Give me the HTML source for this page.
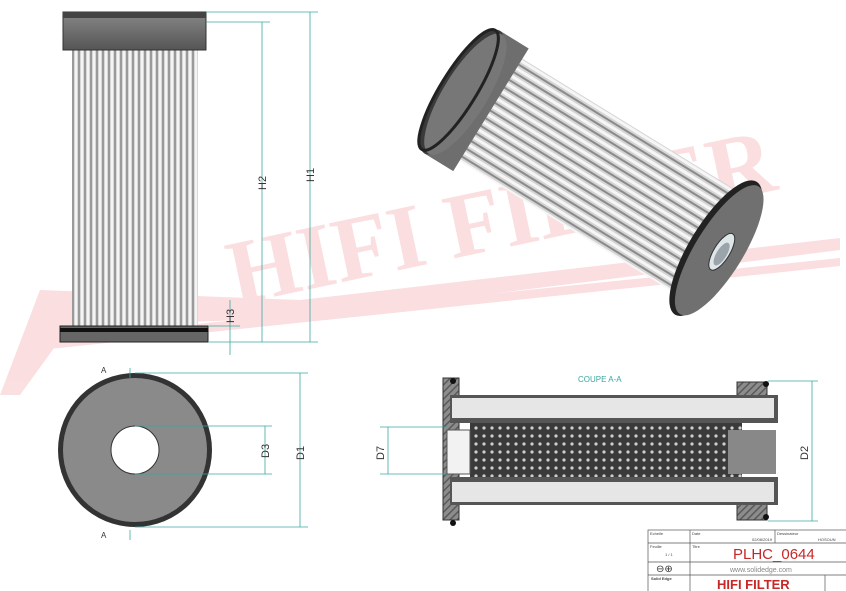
<!DOCTYPE html>
<html><head><meta charset="utf-8"><style>
html,body{margin:0;padding:0;background:#fff;}
svg{display:block;font-family:"Liberation Sans",sans-serif;}
</style></head><body>
<svg width="846" height="591" viewBox="0 0 846 591" xmlns="http://www.w3.org/2000/svg">
<defs>
<pattern id="pl" width="6" height="10" patternUnits="userSpaceOnUse">
<rect width="6" height="10" fill="#d8d8d8"/><rect x="0" width="2" height="10" fill="#9a9a9a"/><rect x="3" width="2" height="10" fill="#f4f4f4"/>
</pattern>
<pattern id="pl3" width="10" height="9" patternUnits="userSpaceOnUse">
<rect width="10" height="9" fill="#d4d4d4"/><rect y="0" width="10" height="2" fill="#8a8a8a"/><rect y="4" width="10" height="3" fill="#f6f6f6"/>
</pattern>
<pattern id="mesh" width="8" height="8" patternUnits="userSpaceOnUse">
<rect width="8" height="8" fill="#3a3a3a"/><circle cx="4" cy="4" r="1.6" fill="#cfcfcf"/>
</pattern>
<pattern id="hatch" width="5" height="5" patternUnits="userSpaceOnUse" patternTransform="rotate(45)">
<rect width="5" height="5" fill="#8c8c8c"/><rect width="1.5" height="5" fill="#5a5a5a"/>
</pattern>
<linearGradient id="capg" x1="0" y1="0" x2="0" y2="1"><stop offset="0" stop-color="#888"/><stop offset="1" stop-color="#555"/></linearGradient>
</defs>

<!-- watermark -->
<g opacity="0.14" fill="#e0202a">
<text x="235" y="305" font-family="Liberation Serif,serif" font-weight="bold" font-size="92" transform="rotate(-12 235 305)">HIFI FILTER</text>
<polygon points="0,395 40,290 300,300 840,238 840,250 300,318 70,326 20,395"/>
<polygon points="40,340 840,258 840,266 40,350"/>
</g>

<!-- left elevation -->
<rect x="72" y="50" width="126" height="276" fill="url(#pl)"/>
<rect x="63" y="12" width="143" height="38" fill="url(#capg)" stroke="#333"/>
<rect x="63" y="12" width="143" height="6" fill="#444"/>
<rect x="60" y="326" width="148" height="16" fill="#666" stroke="#222"/>
<rect x="60" y="328" width="148" height="4" fill="#111"/>
<g stroke="#3aa7a0" stroke-width="0.8" fill="none">
<line x1="206" y1="12" x2="318" y2="12"/><line x1="206" y1="22" x2="270" y2="22"/>
<line x1="208" y1="342" x2="318" y2="342"/><line x1="208" y1="326" x2="240" y2="326"/>
<line x1="262" y1="22" x2="262" y2="342"/><line x1="310" y1="12" x2="310" y2="342"/>
<line x1="230" y1="300" x2="230" y2="355"/>
</g>
<g font-size="11" fill="#333">
<text x="266" y="190" transform="rotate(-90 266 190)">H2</text>
<text x="314" y="182" transform="rotate(-90 314 182)">H1</text>
<text x="234" y="323" transform="rotate(-90 234 323)">H3</text>
</g>

<!-- circle view -->
<circle cx="135" cy="450" r="77" fill="#333"/>
<circle cx="135" cy="450" r="72" fill="#8a8a8a"/>
<circle cx="135" cy="450" r="24" fill="#fff" stroke="#333"/>
<g stroke="#3aa7a0" stroke-width="0.8" fill="none">
<line x1="135" y1="373" x2="308" y2="373"/><line x1="135" y1="527" x2="308" y2="527"/>
<line x1="135" y1="426" x2="272" y2="426"/><line x1="135" y1="474" x2="272" y2="474"/>
<line x1="265" y1="426" x2="265" y2="474"/><line x1="300" y1="373" x2="300" y2="527"/>
<line x1="130" y1="368" x2="130" y2="378"/><line x1="130" y1="530" x2="130" y2="540"/>
</g>
<g font-size="11" fill="#333">
<text x="269" y="458" transform="rotate(-90 269 458)">D3</text>
<text x="304" y="460" transform="rotate(-90 304 460)">D1</text>
<text x="101" y="373" font-size="8">A</text><text x="101" y="538" font-size="8">A</text>
</g>

<!-- isometric view -->
<g transform="translate(462,92) rotate(31.6)">
<rect x="20" y="-60" width="276" height="120" fill="url(#pl3)"/>
<rect x="0" y="-72" width="34" height="144" fill="#6e6e6e"/>
<ellipse cx="0" cy="0" rx="22" ry="72" fill="#3a3a3a"/>
<ellipse cx="4" cy="0" rx="22" ry="70" fill="#777"/>
<ellipse cx="-4" cy="0" rx="18" ry="70" fill="none" stroke="#222" stroke-width="3"/>
<ellipse cx="298" cy="0" rx="26" ry="78" fill="#222"/>
<ellipse cx="302" cy="0" rx="24" ry="75" fill="#707070"/>
<ellipse cx="305" cy="0" rx="8" ry="21" fill="#dfe6ea" stroke="#333"/>
<ellipse cx="306" cy="2" rx="5" ry="13" fill="#9aa4aa"/>
</g>

<!-- section -->
<text x="578" y="382" font-size="8" fill="#3aa7a0">COUPE A-A</text>
<rect x="443" y="378" width="16" height="142" fill="url(#hatch)" stroke="#333"/>
<rect x="737" y="382" width="30" height="36" fill="url(#hatch)" stroke="#333"/>
<rect x="737" y="484" width="30" height="36" fill="url(#hatch)" stroke="#333"/>
<rect x="450" y="395" width="328" height="28" fill="#555"/>
<rect x="452" y="398" width="322" height="20" fill="#e6e6e6"/>
<rect x="450" y="477" width="328" height="28" fill="#555"/>
<rect x="452" y="482" width="322" height="20" fill="#e6e6e6"/>
<rect x="470" y="423" width="272" height="54" fill="url(#mesh)"/>
<rect x="447" y="430" width="23" height="44" fill="#f2f2f2" stroke="#555"/>
<rect x="728" y="430" width="48" height="44" fill="#888"/>
<circle cx="453" cy="381" r="3" fill="#111"/><circle cx="453" cy="523" r="3" fill="#111"/>
<circle cx="766" cy="384" r="3" fill="#111"/><circle cx="766" cy="517" r="3" fill="#111"/>
<g stroke="#3aa7a0" stroke-width="0.8" fill="none">
<line x1="380" y1="427" x2="447" y2="427"/><line x1="380" y1="474" x2="447" y2="474"/>
<line x1="388" y1="427" x2="388" y2="474"/>
<line x1="768" y1="381" x2="818" y2="381"/><line x1="768" y1="521" x2="818" y2="521"/>
<line x1="812" y1="381" x2="812" y2="521"/>
</g>
<g font-size="11" fill="#333">
<text x="384" y="460" transform="rotate(-90 384 460)">D7</text>
<text x="808" y="460" transform="rotate(-90 808 460)">D2</text>
</g>

<!-- title block -->
<g stroke="#555" stroke-width="0.7" fill="none">
<rect x="648" y="530" width="200" height="62"/>
<line x1="690" y1="530" x2="690" y2="591"/>
<line x1="648" y1="543" x2="846" y2="543"/>
<line x1="648" y1="562" x2="846" y2="562"/>
<line x1="648" y1="575" x2="846" y2="575"/>
<line x1="775" y1="530" x2="775" y2="543"/>
<line x1="825" y1="575" x2="825" y2="591"/>
</g>
<g fill="#444" font-size="4">
<text x="650" y="535">Echelle</text><text x="692" y="535">Date</text><text x="777" y="535">Dessinateur</text>
<text x="650" y="548">Feuille</text><text x="692" y="548">Titre</text>
<text x="752" y="541">02/08/2019</text><text x="818" y="541">HOSOUN</text>
<text x="665" y="556">1 / 1</text>
<text x="651" y="580" font-weight="bold">Solid Edge</text>
</g>
<text x="733" y="559" font-size="15" fill="#c62828">PLHC_0644</text>
<text x="730" y="572" font-size="7" fill="#888">www.solidedge.com</text>
<text x="717" y="589" font-size="13" font-weight="bold" fill="#c62828">HIFI FILTER</text>
<text x="656" y="572" font-size="10" fill="#333">⊖⊕</text>
</svg>
</body></html>
